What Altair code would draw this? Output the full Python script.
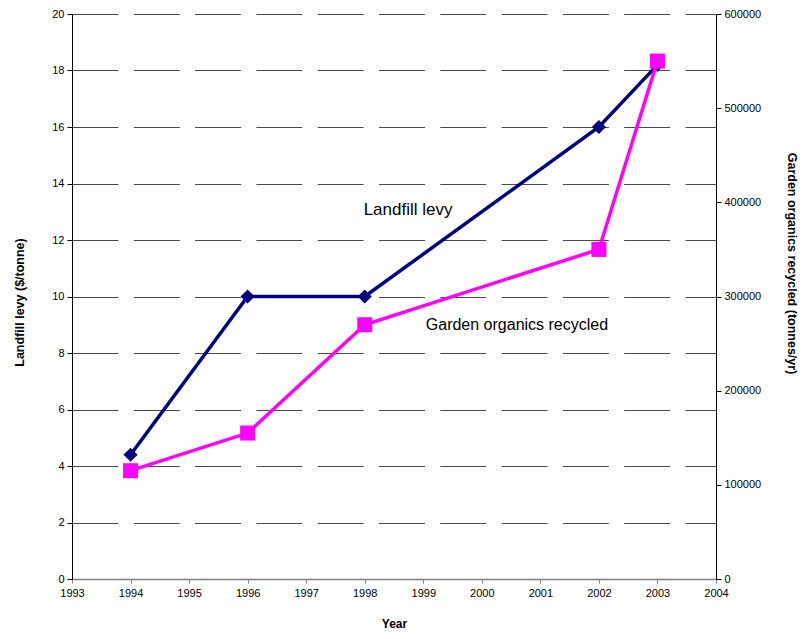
import altair as alt
import pandas as pd

years = [1994, 1996, 1998, 2002, 2003]
levy = [4.4, 10, 10, 16, 18.2]
organics = [115000, 155000, 270000, 350000, 550000]

label1_text = ["Landfill levy"]
label1_year = [1998.74]
label1_levy = [13.06]
label2_text = ["Garden organics recycled"]
label2_year = [2000.6]
label2_levy = [8.99]

x_ticks = list(range(1993, 2005))
left_ticks = list(range(0, 21, 2))
right_ticks = list(range(0, 600001, 100000))

df_levy = pd.DataFrame({"Year": years, "levy": levy})
df_org = pd.DataFrame({"Year": years, "org": organics})
df_lab1 = pd.DataFrame({"Year": label1_year, "levy": label1_levy, "text": label1_text})
df_lab2 = pd.DataFrame({"Year": label2_year, "levy": label2_levy, "text": label2_text})

FONT = "Liberation Sans"

x_enc = alt.X(
    "Year:Q",
    scale=alt.Scale(domain=[1993, 2004], nice=False, zero=False),
    axis=alt.Axis(
        values=x_ticks, format="d", title="Year", grid=False,
        tickSize=4, tickColor="#808080", domainColor="#808080", domainWidth=1.5,
        labelFontSize=11, labelColor="black", labelPadding=4, labelFlush=False,
        titleFontSize=12, titleFontWeight="bold", titlePadding=20,
    ),
)

levy_line = alt.Chart(df_levy).mark_line(
    color="#000080", strokeWidth=3.5,
    point=alt.OverlayMarkDef(shape="diamond", size=200, filled=True, color="#000080", opacity=1),
).encode(
    x=x_enc,
    y=alt.Y(
        "levy:Q",
        scale=alt.Scale(domain=[0, 20], nice=False),
        axis=alt.Axis(
            values=left_ticks, title="Landfill levy ($/tonne)", grid=True,
            gridDash=[46, 15.3], gridColor="#4a4a4a", gridWidth=1,
            domainColor="black", tickColor="black", tickSize=5,
            labelFontSize=11, labelColor="black", labelPadding=3,
            titleFontSize=12.5, titleFontWeight="bold", titlePadding=25,
            titleY=288,
        ),
    ),
)

labels1 = alt.Chart(df_lab1).mark_text(
    fontSize=17, font=FONT, color="black"
).encode(x="Year:Q", y="levy:Q", text="text:N")

labels2 = alt.Chart(df_lab2).mark_text(
    fontSize=16, font=FONT, color="black"
).encode(x="Year:Q", y="levy:Q", text="text:N")

org_line = alt.Chart(df_org).mark_line(
    color="#FF00FF", strokeWidth=3.5,
    point=alt.OverlayMarkDef(shape="square", size=225, filled=True, color="#FF00FF", opacity=1),
).encode(
    x="Year:Q",
    y=alt.Y(
        "org:Q",
        scale=alt.Scale(domain=[0, 600000], nice=False),
        axis=alt.Axis(
            orient="right", values=right_ticks, format="d",
            title="Garden organics recycled (tonnes/yr)", grid=False,
            domainColor="black", tickColor="black", tickSize=5,
            labelFontSize=11, labelColor="black", labelPadding=3,
            titleFontSize=12.5, titleFontWeight="bold", titlePadding=24,
            titleAngle=90, titleY=249,
        ),
    ),
)

chart = alt.layer(
    alt.layer(levy_line, labels1, labels2), org_line
).resolve_scale(y="independent").properties(
    width=644, height=565,
    autosize=alt.AutoSizeParams(type="none"),
    padding={"left": 64, "top": 6, "right": 83, "bottom": 52},
).configure(font=FONT).configure_view(stroke=None)

chart.save("out.html", embed_options={"renderer": "svg", "actions": False})
